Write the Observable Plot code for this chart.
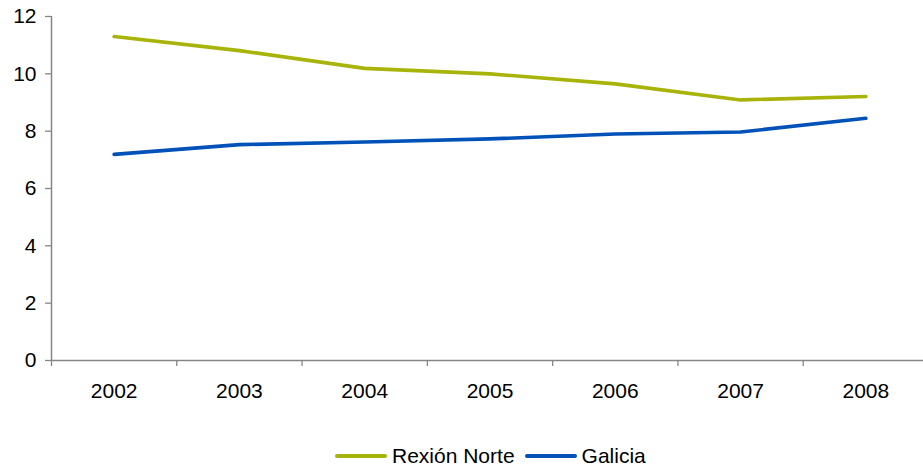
<!DOCTYPE html>
<html><head><meta charset="utf-8">
<script src="https://cdn.jsdelivr.net/npm/d3@7"></script>
<script src="https://cdn.jsdelivr.net/npm/@observablehq/plot@0.6"></script>
<style>
body{margin:0;background:#fff;font-family:"Liberation Sans",Arial,sans-serif;}
#wrap{position:relative;width:923px;height:468px;}
#legend{position:absolute;top:444px;left:335px;height:24px;display:flex;align-items:center;font-size:21px;color:#000;}
.item{display:flex;align-items:center;margin-right:10px;}
.sw{width:52px;height:4px;border-radius:2px;margin-right:5px;}
</style>
</head><body>
<div id="wrap"><div id="chart"></div><div id="legend"></div></div>
<script>
const years = [2002, 2003, 2004, 2005, 2006, 2007, 2008];
const rexionNorte = [11.30, 10.81, 10.19, 10.00, 9.65, 9.09, 9.21];
const galicia = [7.19, 7.53, 7.62, 7.73, 7.90, 7.97, 8.45];
const seriesNames = ["Rexión Norte", "Galicia"];
const seriesColors = ["#a8b40a", "#0152b8"];
const yTicks = [0, 2, 4, 6, 8, 10, 12];

const data = years.flatMap((yr, i) => [
  {year: yr, value: rexionNorte[i], series: seriesNames[0]},
  {year: yr, value: galicia[i], series: seriesNames[1]}
]);
const bounds = [...years.map(y => y - 0.5), years[years.length - 1] + 0.5];
const axisGray = "#868686";
const font = '"Liberation Sans", Arial, sans-serif';

const chart = Plot.plot({
  width: 923, height: 425,
  marginTop: 16, marginBottom: 65, marginLeft: 51, marginRight: 0,
  style: {fontFamily: font, fontSize: "21px", color: "#000", background: "#fff"},
  x: {type: "linear", domain: [bounds[0], bounds[bounds.length - 1]], range: [51, 928]},
  y: {domain: [0, 12]},
  color: {domain: seriesNames, range: seriesColors},
  marks: [
    Plot.axisY({ticks: yTicks, tickSize: 6, tickPadding: 9, stroke: axisGray, fill: "#000", fontSize: 21, label: null, strokeWidth: 1.3}),
    Plot.axisX({ticks: bounds, tickSize: 6, tickFormat: () => "", stroke: axisGray, label: null, strokeWidth: 1.3}),
    Plot.axisX({ticks: years, tickSize: 0, tickPadding: 23, tickFormat: d => String(d), fill: "#000", fontSize: 21, label: null}),
    Plot.ruleX([bounds[0]], {stroke: axisGray, strokeWidth: 1.5}),
    Plot.ruleY([0], {stroke: axisGray, strokeWidth: 1.5}),
    Plot.lineY(data, {x: "year", y: "value", stroke: "series", z: "series", strokeWidth: 3.6, strokeLinecap: "round", strokeLinejoin: "round"})
  ]
});
document.getElementById("chart").appendChild(chart);

const legend = document.getElementById("legend");
seriesNames.forEach((name, i) => {
  const item = document.createElement("div");
  item.className = "item";
  const sw = document.createElement("div");
  sw.className = "sw";
  sw.style.background = seriesColors[i];
  const t = document.createElement("span");
  t.textContent = name;
  item.appendChild(sw); item.appendChild(t);
  legend.appendChild(item);
});
</script>
</body></html>
